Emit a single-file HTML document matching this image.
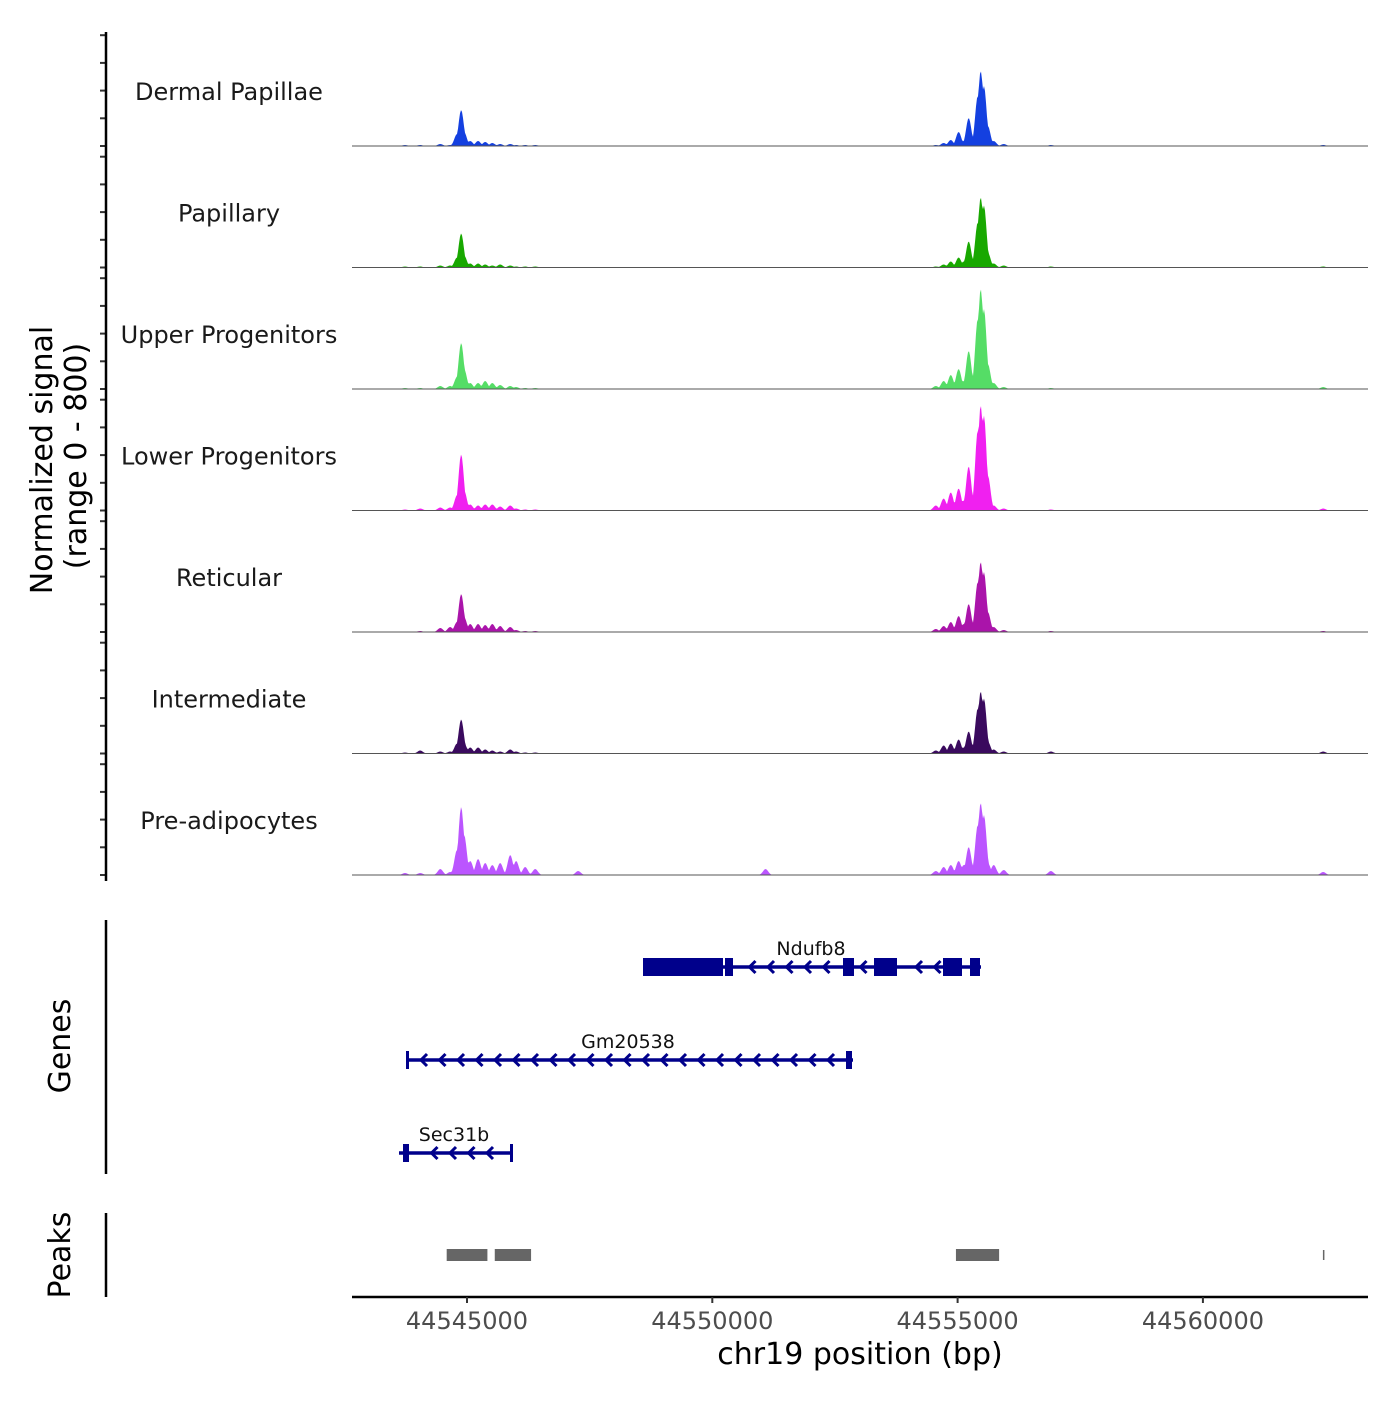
<!DOCTYPE html>
<html><head><meta charset="utf-8">
<style>
body{margin:0;background:#fff;}
svg text{font-family:"DejaVu Sans","Liberation Sans",sans-serif;}
</style></head>
<body>
<svg id="c" width="1400" height="1400" viewBox="0 0 1400 1400" xmlns="http://www.w3.org/2000/svg">
<rect width="1400" height="1400" fill="#fff"/>
<g id="tracks"></g>
<g id="genes"></g>
<g id="peaks"></g>
<g id="axes"></g>
</svg>
<script>
const trackNames = ["Dermal Papillae","Papillary","Upper Progenitors","Lower Progenitors","Reticular","Intermediate","Pre-adipocytes"];
const trackColors = ["#1440e0","#18a800","#55dd66","#f020f0","#aa14aa","#3a0a5e","#bb55ff"];
const peakPositions = [44543736,44544046,44544456,44544656,44544796,44544881,44544941,44545066,44545226,44545371,44545516,44545676,44545881,44546001,44546186,44546391,44547266,44551086,44554556,44554716,44554861,44555021,44555126,44555226,44555331,44555411,44555471,44555536,44555616,44555736,44555941,44556901,44562451];
const sigDermal = [1,1,2,1,12,36,14,5,5,4,3,2,2,1,1,1,0,0,1,3,6,14,5,28,6,50,75,60,20,5,2,1,1];
const sigPapillary = [1,1,2,2,10,34,12,4,4,3,2,3,2,1,1,1,0,0,1,3,6,10,6,26,5,45,70,62,15,4,2,1,1];
const sigUpper = [1,1,3,3,12,46,20,6,6,8,6,4,3,2,1,1,0,0,3,8,14,20,8,38,10,70,100,80,25,6,2,1,2];
const sigLower = [1,2,3,3,15,56,20,6,5,6,6,4,5,2,1,1,0,0,5,12,18,22,10,44,12,80,105,95,35,5,2,1,2];
const sigReticular = [0,1,4,5,10,38,15,8,8,7,8,6,5,2,1,1,0,0,3,6,10,16,8,28,8,50,70,60,20,5,2,1,1];
const sigIntermediate = [1,3,2,2,10,34,10,6,6,4,3,2,4,2,1,1,0,0,3,8,10,14,6,22,6,45,62,55,12,4,2,2,2];
const sigPreadipo = [2,2,6,3,25,68,40,14,16,12,10,12,20,14,8,6,4,6,4,8,10,14,10,28,10,50,72,60,12,10,5,4,3];
const xTicks = [44545000,44550000,44555000,44560000];
const peakRegions = [[44544586,44545416],[44545566,44546306],[44554966,44555846],[44562446,44562466]];

const NS="http://www.w3.org/2000/svg";
const X0=352,X1=1368,BP0=44542656,BP1=44563365;
const x = bp => X0+(bp-BP0)/(BP1-BP0)*(X1-X0);
const Y_MAX=115, TRACK_H=121.5, FIRST_BASE=146;
const yScale = v => v/Y_MAX*115;
function mk(tag,attrs,parent){const e=document.createElementNS(NS,tag);for(const k in attrs)e.setAttribute(k,attrs[k]);parent.appendChild(e);return e;}
const tracksG=document.getElementById('tracks');
const allSig=[sigDermal,sigPapillary,sigUpper,sigLower,sigReticular,sigIntermediate,sigPreadipo];
allSig.forEach((sig,t)=>{
  const base=FIRST_BASE+t*TRACK_H;
  const g=mk('g',{},tracksG);
  
  
  let d='M'+X0+','+base;
  for(let px=X0;px<=X1;px+=1){
    let h=0;
    for(let i=0;i<peakPositions.length;i++){
      const dx=(px-x(peakPositions[i]))/2.6;
      const v=yScale(sig[i])*Math.exp(-dx*dx/2);
      if(v>h)h=v;
    }
    d+=' L'+px+','+(base-h).toFixed(2);
  }
  d+=' L'+X1+','+base+' Z';
  const p=mk('path',{d:d,fill:trackColors[t]},g);
  
  
  const bl=mk('line',{x1:X0,x2:X1,y1:base,y2:base,stroke:'#555','stroke-width':1},g);
  
  
  const lb=mk('text',{x:229,y:base-46,'text-anchor':'middle','font-size':24,fill:'#1a1a1a'},g);
  lb.textContent=trackNames[t];
  
  
  for(let k=0;k<5;k++){
    const ty=base-k*27.7;
    const tk=mk('line',{x1:100,x2:106,y1:ty,y2:ty,stroke:'#333','stroke-width':2},g);
    
    
  }
});

// genes
const genesG=document.getElementById('genes');
const C='#00008b';
function gene(name,start,end,yc,exons,labelBp){
  const g=mk('g',{},genesG);
  
  
  mk('line',{x1:x(start),x2:x(end),y1:yc,y2:yc,stroke:C,'stroke-width':3.5},g);
  for(let px=x(start)+14;px<x(end)-8;px+=18.5){
    let inEx=exons.some(e=>px>=x(e[0])-6&&px<=x(e[1])+6);
    if(inEx)continue;
    mk('path',{d:`M${px+6},${yc-6} L${px},${yc} L${px+6},${yc+6}`,stroke:C,'stroke-width':3,fill:'none'},g);
  }
  exons.forEach(e=>{mk('rect',{x:x(e[0]),y:yc-9,width:Math.max(3,x(e[1])-x(e[0])),height:18,fill:C},g);});
  const t=mk('text',{x:x(labelBp),y:yc-12,'text-anchor':'middle','font-size':19,fill:'#111'},g);
  t.textContent=name;
}
const bpAt=px=>BP0+(px-X0)/(X1-X0)*(BP1-BP0);
gene('Ndufb8',bpAt(643),bpAt(981),967,[[bpAt(643),bpAt(723)],[bpAt(725),bpAt(733)],[bpAt(843),bpAt(854)],[bpAt(874),bpAt(897)],[bpAt(943),bpAt(962)],[bpAt(970),bpAt(980)]],bpAt(811));
gene('Gm20538',bpAt(407),bpAt(853),1060,[[bpAt(406),bpAt(409)],[bpAt(846),bpAt(852)]],bpAt(628));
gene('Sec31b',bpAt(399),bpAt(513),1153,[[bpAt(403),bpAt(409)],[bpAt(510),bpAt(513)]],bpAt(454));

// peaks
const peaksG=document.getElementById('peaks');
peakRegions.forEach(r=>{
  const w=Math.max(1.5,x(r[1])-x(r[0]));
  const rc=mk('rect',{x:x(r[0]),y:w<3?1250:1249,width:w,height:w<3?10:12,fill:'#666'},peaksG);
  
  
});

// axes
const ax=document.getElementById('axes');
function L(a,n){const e=mk('line',a,ax);return e;}
L({x1:106,x2:106,y1:32,y2:881,stroke:'#000','stroke-width':2.5},'signal-y-axis-line');
L({x1:106,x2:106,y1:920,y2:1174,stroke:'#000','stroke-width':2.5},'genes-axis-line');
L({x1:106,x2:106,y1:1213,y2:1297,stroke:'#000','stroke-width':2.5},'peaks-axis-line');
L({x1:X0,x2:X1,y1:1297,y2:1297,stroke:'#000','stroke-width':2.5},'x-axis-line');
xTicks.forEach(v=>{
  L({x1:x(v),x2:x(v),y1:1297,y2:1303,stroke:'#333','stroke-width':2},'x-tick');
  const t=mk('text',{x:x(v),y:1329,'text-anchor':'middle','font-size':24,fill:'#4d4d4d'},ax);
  t.textContent=v;
  
  
});
function T(txt,a,n){const t=mk('text',a,ax);t.textContent=txt;}
T('chr19 position (bp)',{x:860,y:1364,'text-anchor':'middle','font-size':30,fill:'#000'},'x-axis-title');
T('Normalized signal',{x:0,y:0,transform:'translate(52,460) rotate(-90)','text-anchor':'middle','font-size':30,fill:'#000'},'y-axis-title');
T('(range 0 - 800)',{x:0,y:0,transform:'translate(86,456) rotate(-90)','text-anchor':'middle','font-size':30,fill:'#000'},'y-axis-subtitle');
T('Genes',{x:0,y:0,transform:'translate(70,1046) rotate(-90)','text-anchor':'middle','font-size':30,fill:'#000'},'genes-axis-title');
T('Peaks',{x:0,y:0,transform:'translate(70,1255) rotate(-90)','text-anchor':'middle','font-size':30,fill:'#000'},'peaks-axis-title');
</script>
</body></html>
